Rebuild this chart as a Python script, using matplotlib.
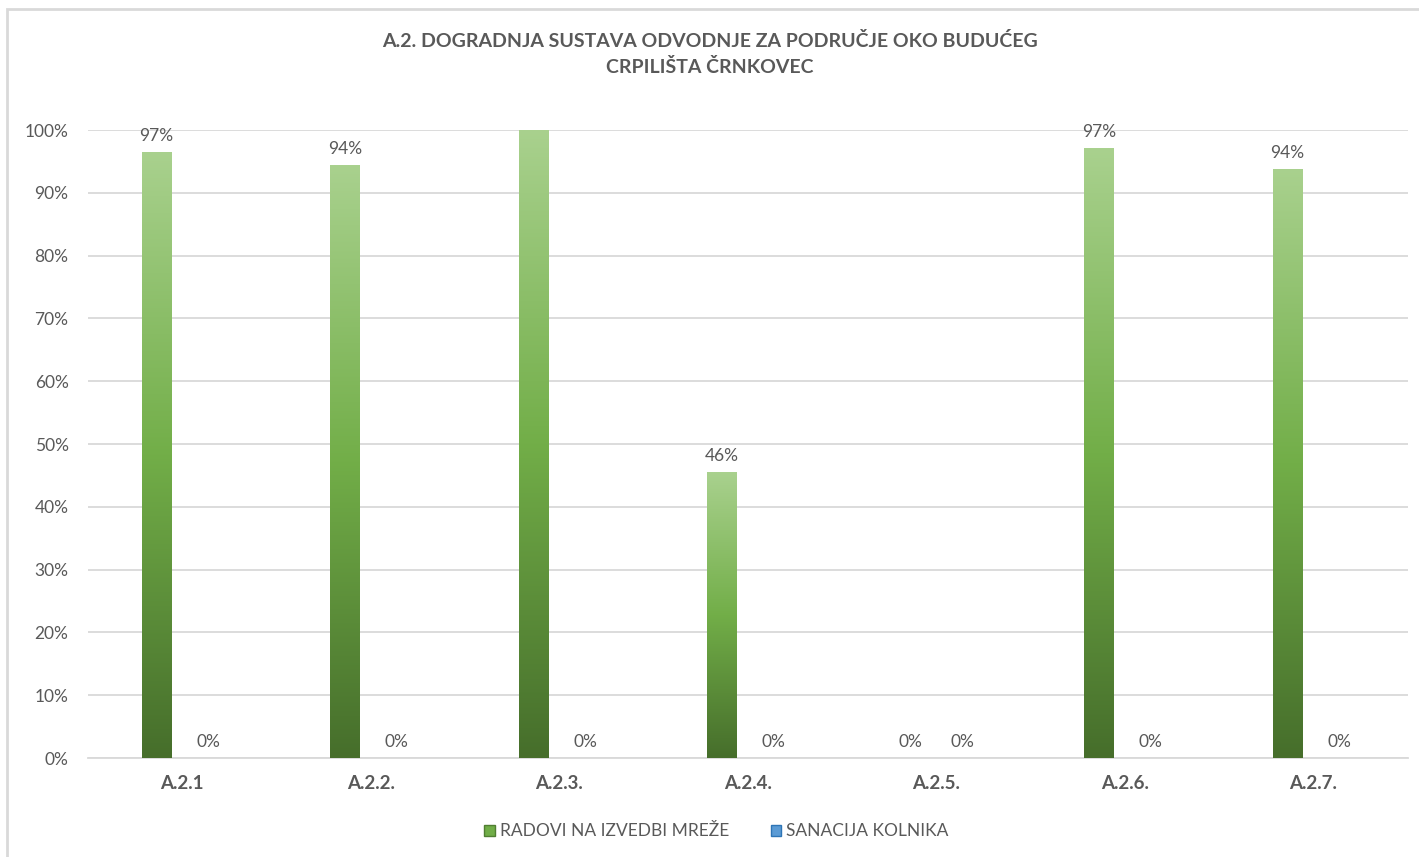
import matplotlib
matplotlib.use("Agg")
import matplotlib.pyplot as plt
from matplotlib.colors import LinearSegmentedColormap
from matplotlib.patches import Rectangle
import numpy as np

# data
categories = ["A.2.1", "A.2.2.", "A.2.3.", "A.2.4.", "A.2.5.", "A.2.6.", "A.2.7."]
radovi = [96.5, 94.4, 100, 45.5, 0, 97.1, 93.8]
radovi_labels = ["97%", "94%", None, "46%", "0%", "97%", "94%"]
sanacija = [0, 0, 0, 0, 0, 0, 0]
sanacija_labels = ["0%", "0%", "0%", "0%", "0%", "0%", "0%"]
title = "A.2. DOGRADNJA SUSTAVA ODVODNJE ZA PODRUČJE OKO BUDUĆEG\nCRPILIŠTA ČRNKOVEC"
series_names = ["RADOVI NA IZVEDBI MREŽE", "SANACIJA KOLNIKA"]

plt.rcParams['font.family'] = ['Lato', 'DejaVu Sans']
TXT = "#595959"

green_cmap = LinearSegmentedColormap.from_list(
    "g", ["#466e2b", "#72ae48", "#a9d18e"])
blue_cmap = LinearSegmentedColormap.from_list(
    "b", ["#2e5f96", "#5b9bd5", "#9dc3e6"])

fig = plt.figure(figsize=(14.19, 8.57), dpi=100)
ax = fig.add_axes([0.062, 0.1155, 0.930, 0.7328])

x = np.arange(len(categories))
width = 0.155
offset = 0.138
grad = np.linspace(0, 1, 256).reshape(-1, 1)


def gradient_bars(xs, vals, cmap):
    bars = ax.bar(xs, vals, width, color="none", edgecolor="none", zorder=3)
    for b in bars:
        h = b.get_height()
        if h <= 0:
            continue
        x0 = b.get_x()
        im = ax.imshow(grad, cmap=cmap, origin="lower", aspect="auto",
                       extent=[x0, x0 + b.get_width(), 0, h], zorder=3)
        im.set_clip_path(b)
    return bars


gradient_bars(x - offset, radovi, green_cmap)
gradient_bars(x + offset, sanacija, blue_cmap)

for xi, v, lab in zip(x - offset, radovi, radovi_labels):
    if lab is not None:
        ax.text(xi, v + 1.3, lab, ha="center", va="bottom", fontsize=12.5, color=TXT)
for xi, v, lab in zip(x + offset, sanacija, sanacija_labels):
    ax.text(xi, v + 1.3, lab, ha="center", va="bottom", fontsize=12.5, color=TXT)

ax.set_xlim(-0.5, len(categories) - 0.5)
ax.set_ylim(0, 100)
ax.set_yticks(np.arange(0, 101, 10))
ax.set_yticklabels([f"{t}%" for t in range(0, 101, 10)], fontsize=12.5, color=TXT)
ax.set_xticks(x)
ax.set_xticklabels(categories, fontsize=13.5, fontweight="bold", color=TXT)
ax.tick_params(axis="both", length=0)
ax.tick_params(axis="x", pad=12)
ax.tick_params(axis="y", pad=14)
ax.grid(axis="y", color="#d9d9d9", linewidth=1.3, zorder=0)
ax.set_axisbelow(True)
for s in ["top", "right", "left"]:
    ax.spines[s].set_visible(False)
ax.spines["bottom"].set_color("#d9d9d9")
ax.spines["bottom"].set_linewidth(1.3)

fig.text(0.5, 0.937, title, ha="center", va="center", fontsize=14,
         fontweight="bold", color=TXT, linespacing=1.55)

handles = [Rectangle((0, 0), 1, 1, facecolor="#70ad47", edgecolor="#507e32"),
           Rectangle((0, 0), 1, 1, facecolor="#5b9bd5", edgecolor="#2e75b6")]
fig.legend(handles, series_names, loc="center", bbox_to_anchor=(0.505, 0.03),
           ncol=2, frameon=False, fontsize=12.5, handlelength=0.6,
           handleheight=0.6, handletextpad=0.3, columnspacing=2.4,
           labelcolor=TXT)

# chart area border (only top/left visible in reference)
fig.add_artist(Rectangle((7 / 1419, -0.1), 1.2, 1.1 - 9 / 857,
                         transform=fig.transFigure, fill=False,
                         edgecolor="#d9d9d9", linewidth=2))

fig.savefig("out.png", dpi=100)
